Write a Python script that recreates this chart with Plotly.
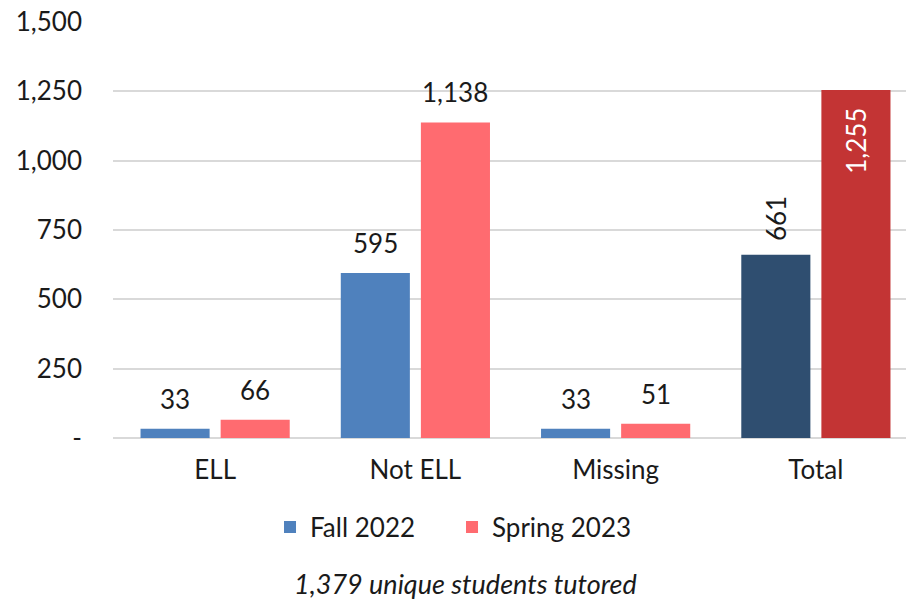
import plotly.graph_objects as go

# Students tutored by English-learner status
categories = ["ELL", "Not ELL", "Missing", "Total"]
fall_2022 = [33, 595, 33, 661]
spring_2023 = [66, 1138, 51, 1255]
series_names = ["Fall 2022", "Spring 2023"]
y_tick_values = [0, 250, 500, 750, 1000, 1250, 1500]
y_tick_labels = ["-", "250", "500", "750", "1,000", "1,250", "1,500"]
caption = "1,379 unique students tutored"

FONT = "Lato"
SIZE = 26
FALL_COLORS = ["#4f81bd", "#4f81bd", "#4f81bd", "#2f4e70"]
SPRING_COLORS = ["#ff6b70", "#ff6b70", "#ff6b70", "#c33434"]

fig = go.Figure()
fig.add_trace(go.Bar(
    x=categories, y=fall_2022, name=series_names[0],
    marker=dict(color=FALL_COLORS, line=dict(width=0)),
))
fig.add_trace(go.Bar(
    x=categories, y=spring_2023, name=series_names[1],
    marker=dict(color=SPRING_COLORS, line=dict(width=0)),
))

# Value labels above each bar (the Total column is rotated)
annotations = []
for series, shift in ((fall_2022, -40), (spring_2023, 40)):
    for cat, val in zip(categories, series):
        is_total = cat == "Total"
        inside = is_total and series is spring_2023
        annotations.append(dict(
            x=cat, y=val, xref="x", yref="y",
            text=f"{val:,}", showarrow=False,
            xshift=shift,
            yshift=-16 if inside else 12,
            yanchor="top" if inside else "bottom",
            textangle=-90 if is_total else 0,
            font=dict(family=FONT, size=SIZE,
                      color="white" if inside else "#1a1a1a"),
        ))

annotations.append(dict(
    x=0.444, y=-0.349, xref="paper", yref="paper",
    text=f"<i>{caption}</i>", showarrow=False,
    xanchor="center", yanchor="middle",
    font=dict(family=FONT, size=27, color="#1a1a1a"),
))

fig.update_layout(
    width=906, height=604,
    margin=dict(l=113, r=0, t=22, b=166),
    paper_bgcolor="white", plot_bgcolor="white",
    barmode="group", bargap=0.2, bargroupgap=0.1375,
    font=dict(family=FONT, size=SIZE, color="#1a1a1a"),
    showlegend=True,
    legend=dict(
        orientation="h", x=0.198, xanchor="left",
        y=-0.214, yanchor="middle",
        font=dict(family=FONT, size=SIZE, color="#1a1a1a"),
        itemwidth=30, traceorder="normal",
        entrywidth=137, entrywidthmode="pixels",
    ),
    annotations=annotations,
)
fig.update_xaxes(
    range=[-0.51, 3.45], showgrid=False, showline=False,
    ticks="", ticklabelstandoff=14,
    tickfont=dict(family=FONT, size=SIZE, color="#1a1a1a"),
)
fig.update_yaxes(
    range=[0, 1500], tickvals=y_tick_values, ticktext=y_tick_labels,
    showgrid=True, gridcolor="#d9d9d9", gridwidth=1.5,
    zeroline=True, zerolinecolor="#d9d9d9", zerolinewidth=2,
    showline=False, ticks="", ticklabelstandoff=30,
    tickfont=dict(family=FONT, size=SIZE, color="#1a1a1a"),
)

fig.write_html("out.html")
